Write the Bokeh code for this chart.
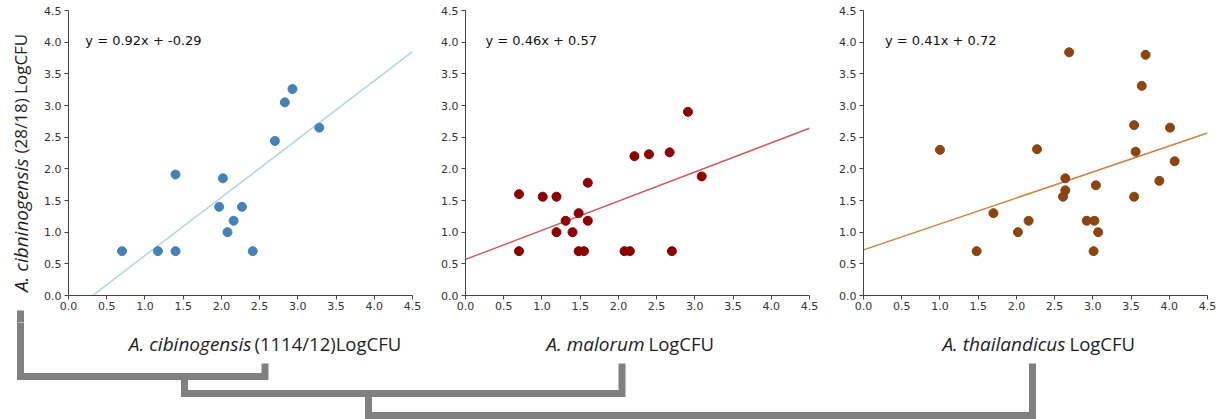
import math
from bokeh.plotting import figure
from bokeh.layouts import column, row
from bokeh.models import Range1d, FixedTicker, PrintfTickFormatter
from bokeh.core.properties import value
from bokeh.embed import file_html
from bokeh.resources import INLINE

# ---------------- data ----------------
ticks = [0.0, 0.5, 1.0, 1.5, 2.0, 2.5, 3.0, 3.5, 4.0, 4.5]

# panel 1: A. cibinogensis (1114/12) vs A. cibninogensis (28/18)
cib_x = [0.70, 1.17, 1.40, 1.40, 1.97, 2.02, 2.08, 2.16, 2.27, 2.41, 2.70, 2.83, 2.93, 3.28]
cib_y = [0.70, 0.70, 0.70, 1.91, 1.40, 1.85, 1.00, 1.18, 1.40, 0.70, 2.44, 3.05, 3.26, 2.65]

# panel 2: A. malorum
mal_x = [0.70, 0.70, 1.01, 1.19, 1.19, 1.31, 1.40, 1.48, 1.48, 1.55, 1.60, 1.60,
         2.08, 2.15, 2.21, 2.40, 2.67, 2.70, 2.91, 3.09]
mal_y = [1.60, 0.70, 1.56, 1.56, 1.00, 1.18, 1.00, 1.30, 0.70, 0.70, 1.78, 1.18,
         0.70, 0.70, 2.20, 2.23, 2.26, 0.70, 2.90, 1.88]

# panel 3: A. thailandicus
tha_x = [1.00, 1.48, 1.70, 2.02, 2.16, 2.27, 2.61, 2.64, 2.64, 2.69, 2.92, 3.02,
         3.01, 3.04, 3.07, 3.54, 3.54, 3.56, 3.64, 3.69, 3.87, 4.01, 4.07]
tha_y = [2.30, 0.70, 1.30, 1.00, 1.18, 2.31, 1.56, 1.66, 1.85, 3.84, 1.18, 1.18,
         0.70, 1.74, 1.00, 2.69, 1.56, 2.27, 3.31, 3.80, 1.81, 2.65, 2.12]

slopes = [0.92, 0.46, 0.41]
intercepts = [-0.29, 0.57, 0.72]

x_label_species = ["A. cibinogensis", "A. malorum", "A. thailandicus"]
x_label_suffix = ["(1114/12)LogCFU", "LogCFU", "LogCFU"]
y_label_species = "A. cibninogensis"
y_label_suffix = "(28/18) LogCFU"

# ---------------- styles ----------------
point_colors = ["#4682B4", "#8B0000", "#8B4513"]
line_colors = ["#ADD8E6", "#CD5C5C", "#CD853F"]
axis_col = "#444444"
tick_text_col = "#333333"
label_col = "#1e1e1e"
tree_col = "#808080"
label_font = "Open Sans"

TOP_H = 322
TOTAL_H = 419
BOT_H = TOTAL_H - TOP_H


def make_panel(xs, ys, k, width, right_border, eq_x):
    p = figure(width=width, height=TOP_H, x_range=Range1d(0, 4.5), y_range=Range1d(0, 4.5),
               output_backend="svg", toolbar_location=None,
               min_border_left=32, min_border_right=right_border,
               min_border_top=10, min_border_bottom=27)
    p.outline_line_color = None
    p.grid.visible = False
    p.background_fill_color = "white"
    p.border_fill_color = "white"
    for ax in (p.xaxis, p.yaxis):
        ax.ticker = FixedTicker(ticks=ticks)
        ax.formatter = PrintfTickFormatter(format="%.1f")
        ax.major_tick_out = 4
        ax.major_tick_in = 0
        ax.minor_tick_out = 0
        ax.minor_tick_in = 0
        ax.axis_line_color = axis_col
        ax.major_tick_line_color = axis_col
        ax.major_label_text_font = "DejaVu Sans"
        ax.major_label_text_font_size = "11px"
        ax.major_label_text_color = tick_text_col
    p.xaxis.major_label_standoff = 2
    p.yaxis.major_label_standoff = 3

    lx = [0.0, 4.5]
    ly = [slopes[k] * v + intercepts[k] for v in lx]
    p.line(lx, ly, line_color=line_colors[k], line_width=1.5)
    p.scatter(xs, ys, size=9, fill_color=point_colors[k], line_color=point_colors[k])
    eq = f"y = {slopes[k]:.2f}x + {intercepts[k]:.2f}"
    p.text(x=[eq_x], y=[4.02], text=[eq], text_font=value("DejaVu Sans"),
           text_font_size="13px", text_color="#111111", text_baseline="middle",
           text_align="left")
    return p


f1 = make_panel(cib_x, cib_y, 0, 397, 21, 0.22)
f2 = make_panel(mal_x, mal_y, 1, 398, 22, 0.26)
f3 = make_panel(tha_x, tha_y, 2, 391, 15, 0.28)

# ---------------- y label strip ----------------
YW = 36
ylab = figure(width=YW, height=TOP_H, x_range=Range1d(0, YW), y_range=Range1d(0, TOP_H),
              output_backend="svg", toolbar_location=None, x_axis_type=None, y_axis_type=None,
              min_border=0)
ylab.frame_align = False
ylab.outline_line_color = None
ylab.grid.visible = False
gy = lambda s: TOP_H - s
ylab.text(x=[20], y=[gy(158)], text=[y_label_species], angle=math.pi / 2,
          text_font=value(label_font), text_font_style="italic", text_font_size="19px",
          text_color=label_col, text_align="right", text_baseline="middle")
ylab.text(x=[20], y=[gy(153)], text=[y_label_suffix], angle=math.pi / 2,
          text_font=value(label_font), text_font_size="17px",
          text_color=label_col, text_align="left", text_baseline="middle")
ylab.line([20, 20], [gy(310), gy(TOP_H + 1)], line_color=tree_col, line_width=7)

# ---------------- bottom strip: axis titles + tree ----------------
bot = figure(width=1222, height=BOT_H, x_range=Range1d(0, 1222), y_range=Range1d(0, BOT_H),
             output_backend="svg", toolbar_location=None, x_axis_type=None, y_axis_type=None,
             min_border=0)
bot.frame_align = False
bot.outline_line_color = None
bot.grid.visible = False
fy = lambda s: TOTAL_H - s

ital_right = [251, 644, 1065]
norm_left = [254, 648, 1069]
mid_y = 343
bot.text(x=ital_right, y=[fy(mid_y)] * 3, text=x_label_species,
         text_font=value(label_font), text_font_style="italic", text_font_size="19px",
         text_color=label_col, text_align="right", text_baseline="middle")
bot.text(x=norm_left, y=[fy(mid_y)] * 3, text=x_label_suffix,
         text_font=value(label_font), text_font_size="18.5px",
         text_color=label_col, text_align="left", text_baseline="middle")

tree_xs = [[20, 20, 264.5, 264.5], [184, 184, 621.5, 621.5], [368, 368, 1032, 1032]]
tree_ys = [[fy(TOP_H - 1), fy(376), fy(376), fy(363)],
           [fy(376), fy(393), fy(393), fy(363)],
           [fy(393), fy(415), fy(415), fy(363)]]
bot.multi_line(tree_xs, tree_ys, line_color=tree_col, line_width=7,
               line_join="miter", line_cap="butt")

layout = column(row(ylab, f1, f2, f3), bot)

open("out.html", "w").write(file_html(layout, INLINE))
